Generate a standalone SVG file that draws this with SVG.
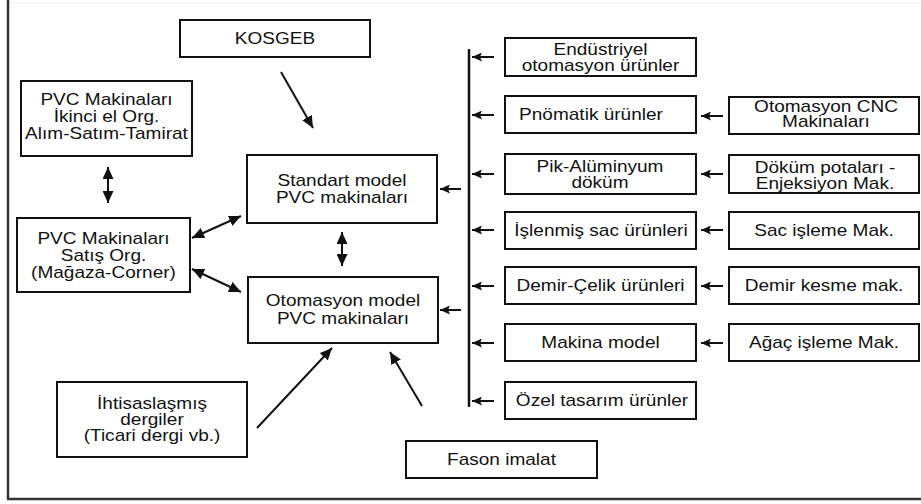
<svg xmlns="http://www.w3.org/2000/svg" width="921" height="504" viewBox="0 0 921 504">
<style>
.box{fill:#fff;stroke:#111;stroke-width:2}
.t{font-family:"Liberation Sans",Arial,sans-serif;font-size:17px;fill:#111;text-anchor:middle}
.c{stroke:#111;stroke-width:2;fill:none}
.s{marker-end:url(#hs)}
.l{marker-end:url(#hl)}
.d{marker-start:url(#hlr);marker-end:url(#hl)}
</style>
<defs>
<marker id="hs" markerUnits="userSpaceOnUse" markerWidth="11" markerHeight="9" refX="10" refY="4.5" orient="auto"><path d="M0,0 L10,4.5 L0,9 L2,4.5 Z" fill="#111"/></marker>
<marker id="hl" markerUnits="userSpaceOnUse" markerWidth="13" markerHeight="11" refX="12" refY="5.5" orient="auto"><path d="M0,0 L12,5.5 L0,11 Z" fill="#111"/></marker>
<marker id="hlr" markerUnits="userSpaceOnUse" markerWidth="13" markerHeight="11" refX="0" refY="5.5" orient="auto"><path d="M12,0 L0,5.5 L12,11 Z" fill="#111"/></marker>
</defs>
<rect x="0" y="0" width="921" height="504" fill="#fff"/>
<g id="frame">
<line x1="8" y1="3" x2="921" y2="3" stroke="#eeeeee" stroke-width="1"/>
<line x1="8" y1="0" x2="8" y2="499" stroke="#333" stroke-width="2.5"/>
<line x1="7" y1="499" x2="921" y2="499" stroke="#333" stroke-width="2.5"/>
</g>
<g id="connectors">
<line class="c" x1="469" y1="49" x2="469" y2="407" style="stroke-width:2.5"/>
<line class="c s" x1="494" y1="57" x2="472" y2="57"/>
<line class="c s" x1="494" y1="115" x2="472" y2="115"/>
<line class="c s" x1="494" y1="174" x2="472" y2="174"/>
<line class="c s" x1="494" y1="230" x2="472" y2="230"/>
<line class="c s" x1="494" y1="286" x2="472" y2="286"/>
<line class="c s" x1="494" y1="343" x2="472" y2="343"/>
<line class="c s" x1="494" y1="401" x2="472" y2="401"/>
<line class="c s" x1="723" y1="116" x2="701" y2="116"/>
<line class="c s" x1="723" y1="174" x2="701" y2="174"/>
<line class="c s" x1="723" y1="230" x2="701" y2="230"/>
<line class="c s" x1="723" y1="286" x2="701" y2="286"/>
<line class="c s" x1="723" y1="343" x2="701" y2="343"/>
<line class="c s" x1="461" y1="189" x2="440" y2="189"/>
<line class="c s" x1="461" y1="310" x2="440" y2="310"/>
<line class="c d" x1="108" y1="167" x2="108" y2="203"/>
<line class="c d" x1="342" y1="232" x2="342" y2="266"/>
<line class="c d" x1="192" y1="238" x2="241" y2="216"/>
<line class="c d" x1="192" y1="269" x2="241" y2="292"/>
<line class="c l" x1="281" y1="72" x2="313" y2="128"/>
<line class="c l" x1="257" y1="428" x2="332" y2="348"/>
<line class="c l" x1="422" y1="406" x2="390" y2="352"/>
</g>
<g id="kosgeb"><rect class="box" x="180" y="20" width="190" height="37"/><text class="t" transform="translate(275 0) scale(1.12 1)"><tspan x="0" y="44.5">KOSGEB</tspan></text></g>
<g id="ikinci-el"><rect class="box" x="21" y="81" width="171" height="75"/><text class="t" transform="translate(106.5 0) scale(1.12 1)"><tspan x="0" y="105">PVC Makinaları</tspan><tspan x="0" y="122">İkinci el Org.</tspan><tspan x="0" y="139">Alım-Satım-Tamirat</tspan></text></g>
<g id="standart"><rect class="box" x="247" y="155" width="190" height="68"/><text class="t" transform="translate(342 0) scale(1.12 1)"><tspan x="0" y="186">Standart model</tspan><tspan x="0" y="203">PVC makinaları</tspan></text></g>
<g id="satis"><rect class="box" x="17" y="218" width="173" height="74"/><text class="t" transform="translate(103.5 0) scale(1.12 1)"><tspan x="0" y="244">PVC Makinaları</tspan><tspan x="0" y="261">Satış Org.</tspan><tspan x="0" y="278">(Mağaza-Corner)</tspan></text></g>
<g id="otomasyon-model"><rect class="box" x="248" y="277" width="190" height="66"/><text class="t" transform="translate(343 0) scale(1.12 1)"><tspan x="0" y="306.5">Otomasyon model</tspan><tspan x="0" y="324">PVC makinaları</tspan></text></g>
<g id="ihtisas"><rect class="box" x="57" y="382" width="190" height="75"/><text class="t" transform="translate(152 0) scale(1.12 1)"><tspan x="0" y="408.5">İhtisaslaşmış</tspan><tspan x="0" y="425">dergiler</tspan><tspan x="0" y="441.5">(Ticari dergi vb.)</tspan></text></g>
<g id="fason"><rect class="box" x="406" y="441" width="191" height="37"/><text class="t" transform="translate(501.5 0) scale(1.12 1)"><tspan x="0" y="465.5">Fason imalat</tspan></text></g>
<g id="endustriyel"><rect class="box" x="505" y="38" width="191" height="38"/><text class="t" transform="translate(600.5 0) scale(1.12 1)"><tspan x="0" y="55">Endüstriyel</tspan><tspan x="0" y="71">otomasyon ürünler</tspan></text></g>
<g id="pnomatik"><rect class="box" x="505" y="96" width="191" height="37"/><text class="t" transform="translate(591 0) scale(1.12 1)"><tspan x="0" y="120.5">Pnömatik ürünler</tspan></text></g>
<g id="pik"><rect class="box" x="505" y="154" width="191" height="40"/><text class="t" transform="translate(600 0) scale(1.12 1)"><tspan x="0" y="172.5">Pik-Alüminyum</tspan><tspan x="0" y="188.5">döküm</tspan></text></g>
<g id="islenmis"><rect class="box" x="505" y="212" width="191" height="37"/><text class="t" transform="translate(601 0) scale(1.12 1)"><tspan x="0" y="236">İşlenmiş sac ürünleri</tspan></text></g>
<g id="demir-celik"><rect class="box" x="505" y="267" width="191" height="37"/><text class="t" transform="translate(600.5 0) scale(1.12 1)"><tspan x="0" y="291">Demir-Çelik ürünleri</tspan></text></g>
<g id="makina-model"><rect class="box" x="505" y="324" width="191" height="37"/><text class="t" transform="translate(600.5 0) scale(1.12 1)"><tspan x="0" y="348">Makina model</tspan></text></g>
<g id="ozel"><rect class="box" x="505" y="382" width="191" height="37"/><text class="t" transform="translate(602 0) scale(1.12 1)"><tspan x="0" y="406">Özel tasarım ürünler</tspan></text></g>
<g id="cnc"><rect class="box" x="729" y="97" width="190" height="37"/><text class="t" transform="translate(826 0) scale(1.12 1)"><tspan x="0" y="112">Otomasyon CNC</tspan><tspan x="0" y="127.5">Makinaları</tspan></text></g>
<g id="dokum"><rect class="box" x="729" y="155" width="190" height="38"/><text class="t" transform="translate(825 0) scale(1.12 1)"><tspan x="0" y="173">Döküm potaları -</tspan><tspan x="0" y="189">Enjeksiyon Mak.</tspan></text></g>
<g id="sac"><rect class="box" x="729" y="212" width="190" height="37"/><text class="t" transform="translate(824 0) scale(1.12 1)"><tspan x="0" y="236">Sac işleme Mak.</tspan></text></g>
<g id="demir-kesme"><rect class="box" x="729" y="267" width="190" height="37"/><text class="t" transform="translate(824 0) scale(1.12 1)"><tspan x="0" y="291">Demir kesme mak.</tspan></text></g>
<g id="agac"><rect class="box" x="729" y="324" width="190" height="37"/><text class="t" transform="translate(824 0) scale(1.12 1)"><tspan x="0" y="348">Ağaç işleme Mak.</tspan></text></g>
</svg>
